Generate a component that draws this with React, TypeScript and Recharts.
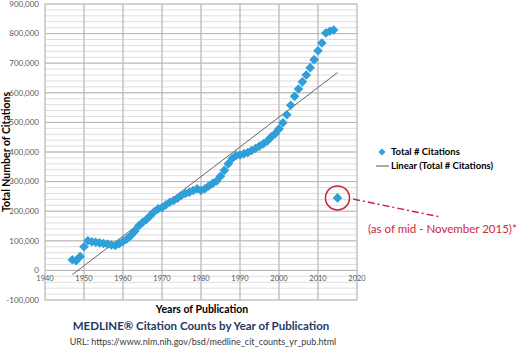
import React from 'react';
import { ComposedChart, Scatter, XAxis, YAxis, CartesianGrid, ReferenceLine, ReferenceDot, Legend } from 'recharts';

const years = [
  1947, 1948, 1949, 1950, 1951, 1952, 1953, 1954, 1955, 1956,
  1957, 1958, 1959, 1960, 1961, 1962, 1963, 1964, 1965, 1966,
  1967, 1968, 1969, 1970, 1971, 1972, 1973, 1974, 1975, 1976,
  1977, 1978, 1979, 1980, 1981, 1982, 1983, 1984, 1985, 1986,
  1987, 1988, 1989, 1990, 1991, 1992, 1993, 1994, 1995, 1996,
  1997, 1998, 1999, 2000, 2001, 2002, 2003, 2004, 2005, 2006,
  2007, 2008, 2009, 2010, 2011, 2012, 2013, 2014, 2015,
];

const citations = [
  36000, 33000, 47000, 80000, 100000, 97000, 95000, 93000, 91000, 89000,
  86000, 84000, 90000, 98000, 106000, 118000, 132000, 150000, 162000, 172000,
  185000, 198000, 208000, 212000, 222000, 230000, 236000, 244000, 254000, 260000,
  264000, 270000, 276000, 270000, 276000, 285000, 294000, 302000, 318000, 338000,
  360000, 378000, 388000, 390000, 394000, 398000, 405000, 412000, 420000, 428000,
  437000, 451000, 462000, 478000, 499000, 526000, 558000, 588000, 613000, 637000,
  660000, 685000, 712000, 742000, 768000, 802000, 808000, 812000, 245000,
];

const xTicks = [1940, 1950, 1960, 1970, 1980, 1990, 2000, 2010, 2020];
const yTicks = [-100000, 0, 100000, 200000, 300000, 400000, 500000, 600000, 700000, 800000, 900000];
const xMinor = [
  1940, 1942, 1944, 1946, 1948, 1950, 1952, 1954, 1956, 1958, 1960, 1962, 1964, 1966, 1968,
  1970, 1972, 1974, 1976, 1978, 1980, 1982, 1984, 1986, 1988, 1990, 1992, 1994, 1996, 1998,
  2000, 2002, 2004, 2006, 2008, 2010, 2012, 2014, 2016, 2018, 2020,
];
const yMinor = [
  -100000, -80000, -60000, -40000, -20000, 0, 20000, 40000, 60000, 80000, 100000, 120000, 140000,
  160000, 180000, 200000, 220000, 240000, 260000, 280000, 300000, 320000, 340000, 360000, 380000,
  400000, 420000, 440000, 460000, 480000, 500000, 520000, 540000, 560000, 580000, 600000, 620000,
  640000, 660000, 680000, 700000, 720000, 740000, 760000, 780000, 800000, 820000, 840000, 860000,
  880000, 900000,
];

const seriesName = 'Total # Citations';
const trendName = 'Linear (Total # Citations)';
const noteText = '(as of mid - November 2015)*';

const data = years.map((y, i) => ({ x: y, y: citations[i] }));

// least-squares linear trendline
const n = years.length;
const mx = years.reduce((a, b) => a + b, 0) / n;
const my = citations.reduce((a, b) => a + b, 0) / n;
let sxy = 0;
let sxx = 0;
for (let i = 0; i < n; i++) {
  sxy += (years[i] - mx) * (citations[i] - my);
  sxx += (years[i] - mx) * (years[i] - mx);
}
const slope = sxy / sxx;
const intercept = my - slope * mx;
const xMin = Math.min(...years);
const xMax = Math.max(...years);
const trendData = [
  { x: xMin, y: intercept + slope * xMin },
  { x: xMax, y: intercept + slope * xMax },
];

const last = data[data.length - 1];

const BLUE = '#2e9fd8';
const RED = '#c9283e';
const FONT = 'Lato, "Noto Sans", sans-serif';

const Diamond = (props: any) => {
  const { cx, cy } = props;
  if (cx == null || cy == null) return null;
  const s = 4.8;
  return (
    <polygon
      points={`${cx},${cy - s} ${cx + s},${cy} ${cx},${cy + s} ${cx - s},${cy}`}
      fill={BLUE}
    />
  );
};

const NoShape = () => null;

const renderLegend = () => (
  <div style={{ fontFamily: FONT, fontWeight: 700, fontSize: 9.5, color: '#000', lineHeight: '14px', textAlign: 'left' }}>
    <div style={{ display: 'flex', alignItems: 'center' }}>
      <svg width={18} height={10}>
        <polygon points="9,1.5 12.5,5 9,8.5 5.5,5" fill={BLUE} />
      </svg>
      <span>{seriesName}</span>
    </div>
    <div style={{ display: 'flex', alignItems: 'center' }}>
      <svg width={18} height={10}>
        <line x1={3} y1={5} x2={16} y2={5} stroke="#555" strokeWidth={1} />
      </svg>
      <span>{trendName}</span>
    </div>
  </div>
);

export default function App() {
  return (
    <div style={{ position: 'absolute', left: 0, top: 0, width: 520, height: 351, background: '#fff' }}>
      <ComposedChart
        width={520}
        height={351}
        margin={{ top: 4, right: 163, bottom: 51, left: 5 }}
        style={{ fontFamily: FONT }}
      >
        <CartesianGrid
          stroke="#dedede"
          strokeWidth={1}
          horizontalValues={yMinor}
          verticalValues={xMinor}
        />
        <CartesianGrid
          stroke="#b5b5b5"
          strokeWidth={1}
          horizontalValues={yTicks}
          verticalValues={xTicks}
        />
        <XAxis
          type="number"
          dataKey="x"
          domain={[1940, 2020]}
          ticks={xTicks}
          hide
          allowDataOverflow
        />
        <YAxis
          type="number"
          dataKey="y"
          domain={[-100000, 900000]}
          ticks={yTicks}
          width={40}
          axisLine={false}
          tickLine={false}
          tickSize={0}
          tickMargin={6}
          interval={0}
          allowDataOverflow
          tick={{ fontSize: 8, fill: '#595959', fontFamily: FONT }}
          tickFormatter={(v: number) => v.toLocaleString('en-US')}
        />
        {xTicks.map((t) => (
          <ReferenceDot
            key={'xl' + t}
            x={t}
            y={0}
            r={0}
            fill="none"
            stroke="none"
            ifOverflow="visible"
            label={{ value: String(t), position: 'bottom', offset: 5, fontSize: 7.5, fill: '#595959', fontFamily: FONT }}
          />
        ))}
        <Scatter
          name={trendName}
          data={trendData}
          line={{ stroke: '#555555', strokeWidth: 0.9 }}
          shape={NoShape}
          isAnimationActive={false}
          legendType="line"
        />
        <Scatter
          name={seriesName}
          data={data}
          shape={Diamond}
          isAnimationActive={false}
          legendType="diamond"
        />
        <ReferenceDot
          x={last.x}
          y={last.y}
          r={12}
          fill="none"
          stroke={RED}
          strokeWidth={1.5}
          ifOverflow="visible"
        />
        <ReferenceLine
          segment={[
            { x: last.x + 4, y: last.y - 4000 },
            { x: last.x + 26.5, y: last.y - 65000 },
          ]}
          stroke={RED}
          strokeWidth={1.5}
          strokeDasharray="7 3 2 3"
          ifOverflow="visible"
        />
        <Legend
          content={renderLegend}
          layout="vertical"
          verticalAlign="middle"
          align="center"
          wrapperStyle={{ position: 'absolute', left: 373, top: 145, width: 147 }}
        />
      </ComposedChart>

      <div
        style={{
          position: 'absolute', left: 6 - 100, top: 152 - 8, width: 200, height: 16,
          transform: 'rotate(-90deg)', textAlign: 'center', fontFamily: FONT,
          fontWeight: 700, fontSize: 10.5, lineHeight: '16px', color: '#000',
        }}
      >
        Total Number of Citations
      </div>
      <div
        style={{
          position: 'absolute', left: 102, top: 301, width: 200, textAlign: 'center',
          fontFamily: FONT, fontWeight: 700, fontSize: 10.5, lineHeight: '16px', color: '#000',
        }}
      >
        Years of Publication
      </div>
      <div
        style={{
          position: 'absolute', left: 1, top: 318, width: 400, textAlign: 'center',
          fontFamily: FONT, fontWeight: 700, fontSize: 11.5, lineHeight: '16px', color: '#1f3864',
        }}
      >
        MEDLINE® Citation Counts by Year of Publication
      </div>
      <div
        style={{
          position: 'absolute', left: 3, top: 335, width: 400, textAlign: 'center',
          fontFamily: FONT, fontSize: 9, lineHeight: '14px', color: '#3a3a3a',
        }}
      >
        URL: https://www.nlm.nih.gov/bsd/medline_cit_counts_yr_pub.html
      </div>
      <div
        style={{
          position: 'absolute', left: 368, top: 221, whiteSpace: 'nowrap',
          fontFamily: FONT, fontSize: 11.5, lineHeight: '16px', color: RED,
        }}
      >
        {noteText}
      </div>
    </div>
  );
}
